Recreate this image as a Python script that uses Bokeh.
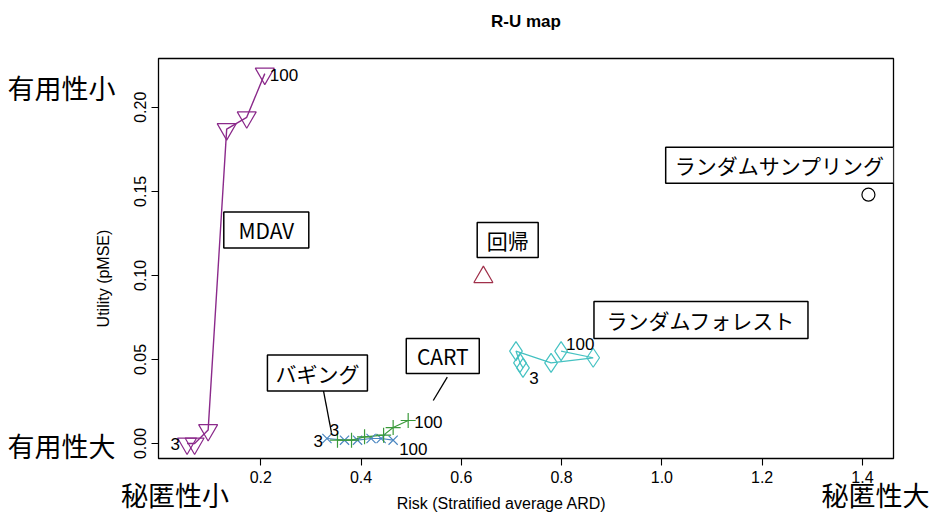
from bokeh.plotting import figure
from bokeh.models import Range1d, FixedTicker, PrintfTickFormatter, LinearAxis
from bokeh.embed import file_html
from bokeh.resources import INLINE
from bokeh.core.properties import value

# ---- data ----
mdav_risk = [0.053, 0.068, 0.095, 0.132, 0.172, 0.208]
mdav_util = [0.000, 0.000, 0.008, 0.187, 0.194, 0.220]

bagging_risk = [0.332, 0.367, 0.393, 0.420, 0.440, 0.464]
bagging_util = [0.003, 0.002, 0.002, 0.003, 0.003, 0.002]

cart_risk = [0.353, 0.381, 0.407, 0.445, 0.464, 0.494]
cart_util = [0.002, 0.002, 0.004, 0.005, 0.0095, 0.0137]

rf_risk = [0.723, 0.717, 0.709, 0.779, 0.863, 0.799]
rf_util = [0.045, 0.048, 0.055, 0.048, 0.051, 0.055]

reg_risk = [0.644]
reg_util = [0.099]

rs_risk = [1.412]
rs_util = [0.148]

x_ticks = [0.2, 0.4, 0.6, 0.8, 1.0, 1.2, 1.4]
y_ticks = [0.00, 0.05, 0.10, 0.15, 0.20]

title_text = "R-U map"
x_label = "Risk (Stratified average ARD)"
y_label = "Utility (pMSE)"
method_names = ["ランダムサンプリング", "MDAV", "回帰", "ランダムフォレスト", "CART", "バギング"]
k_first, k_last = "3", "100"
utility_words = ["有用性小", "有用性大"]
risk_words = ["秘匿性小", "秘匿性大"]

NB = "\u00a0"

# ---- figure ----
p = figure(width=929, height=516, output_backend="svg", toolbar_location=None,
           x_range=Range1d(-0.004, 1.462), y_range=Range1d(-0.0089, 0.229),
           min_border_left=158, min_border_right=36, min_border_top=58,
           min_border_bottom=58)
p.grid.visible = False
p.outline_line_color = "black"
p.outline_line_width = 1.3
p.outline_line_alpha = 1.0
p.background_fill_color = "white"
p.border_fill_color = "white"

tick_font = "Liberation Sans"
jp = "Noto Sans CJK JP"

p.xaxis.ticker = FixedTicker(ticks=x_ticks)
p.xaxis.formatter = PrintfTickFormatter(format="%.1f")
p.yaxis.ticker = FixedTicker(ticks=y_ticks)
p.yaxis.formatter = PrintfTickFormatter(format="%.2f")
for ax in (p.xaxis, p.yaxis):
    ax.axis_line_color = None
    ax.major_tick_line_color = "black"
    ax.major_tick_line_width = 1.1
    ax.major_tick_out = 7
    ax.major_tick_in = 0
    ax.minor_tick_line_color = None
    ax.major_label_text_font = tick_font
    ax.major_label_text_font_size = "16px"
    ax.major_label_text_color = "black"
    ax.axis_label_text_font = tick_font
    ax.axis_label_text_font_size = "16px"
    ax.axis_label_text_font_style = "normal"
    ax.axis_label_text_color = "black"
p.yaxis.major_label_orientation = "vertical"
p.xaxis.major_label_standoff = 5
p.yaxis.major_label_standoff = 5
# trailing no-break spaces shift the centred labels as in the reference
p.xaxis.axis_label = x_label + NB * 11
p.yaxis.axis_label = y_label + NB * 9
p.xaxis.axis_label_standoff = 9
p.yaxis.axis_label_standoff = 20

# title placed as a label-only axis above the frame
title_pos = [0.729]
ax_t = LinearAxis(ticker=FixedTicker(ticks=title_pos),
                  major_label_overrides={title_pos[0]: title_text},
                  major_label_standoff=22,
                  major_label_text_font=tick_font,
                  major_label_text_font_size="17px",
                  major_label_text_font_style="bold",
                  major_label_text_color="black",
                  axis_line_color=None, major_tick_line_color=None,
                  minor_tick_line_color=None)
p.add_layout(ax_t, "above")

# outer word axes (有用性 / 秘匿性)
y_word_ticks = [0.2115, -0.0012]
ax_u = LinearAxis(ticker=FixedTicker(ticks=y_word_ticks),
                  major_label_overrides={y_word_ticks[0]: utility_words[0],
                                         y_word_ticks[1]: utility_words[1]},
                  major_label_orientation="horizontal",
                  major_label_standoff=-30,
                  major_label_text_font=jp, major_label_text_font_size="27px",
                  major_label_text_color="black",
                  axis_line_color=None, major_tick_line_color=None,
                  minor_tick_line_color=None)
p.add_layout(ax_u, "left")

x_word_ticks = [0.029, 1.442]
ax_r = LinearAxis(ticker=FixedTicker(ticks=x_word_ticks),
                  major_label_overrides={x_word_ticks[0]: risk_words[0],
                                         x_word_ticks[1]: risk_words[1]},
                  major_label_standoff=-46,
                  major_label_text_font=jp, major_label_text_font_size="27px",
                  major_label_text_color="black",
                  axis_line_color=None, major_tick_line_color=None,
                  minor_tick_line_color=None)
p.add_layout(ax_r, "below")

c_mdav = "#8B2A8B"
c_bag = "#4A86C0"
c_cart = "#3A9A3A"
c_rf = "#45C2C2"
c_reg = "#A0304A"

# series lines
p.line(mdav_risk, mdav_util, line_color=c_mdav, line_width=1.4)
p.line(bagging_risk, bagging_util, line_color=c_bag, line_width=1.2)
p.line(cart_risk, cart_util, line_color=c_cart, line_width=1.2)
p.line(rf_risk, rf_util, line_color=c_rf, line_width=1.2)

# markers
p.scatter(mdav_risk, mdav_util, marker="inverted_triangle", size=19,
          fill_color=None, line_color=c_mdav, line_width=1.2)
p.scatter(bagging_risk, bagging_util, marker="x", size=13,
          line_color=c_bag, line_width=1.2)
p.scatter(cart_risk, cart_util, marker="cross", size=15,
          line_color=c_cart, line_width=1.2)
p.scatter(rf_risk, rf_util, marker="diamond", size=19,
          fill_color=None, line_color=c_rf, line_width=1.2)
p.scatter(reg_risk, reg_util, marker="triangle", size=19,
          fill_color=None, line_color=c_reg, line_width=1.2)
p.scatter(rs_risk, rs_util, marker="circle", size=13,
          fill_color=None, line_color="black", line_width=1.2)

# k labels (3 / 100)
lab_font = value(tick_font)
def klabel(x, y, t, align, xo, yo):
    p.text([x], [y], text=[t], text_align=align, text_baseline="middle",
           x_offset=xo, y_offset=yo, text_font=lab_font,
           text_font_size="17px", text_color="black")

klabel(mdav_risk[0], mdav_util[0], k_first, "right", -7, 0)
klabel(mdav_risk[-1], mdav_util[-1], k_last, "left", 5, 1)
klabel(bagging_risk[0], bagging_util[0], k_first, "right", -4, 3)
klabel(bagging_risk[-1], bagging_util[-1], k_last, "left", 6, 9)
klabel(cart_risk[0], cart_util[0], k_first, "center", -3, -10)
klabel(cart_risk[-1], cart_util[-1], k_last, "left", 6, 1)
klabel(rf_risk[0], rf_util[0], k_first, "center", 11, 10)
klabel(rf_risk[-1], rf_util[-1], k_last, "left", 5, -7)

# connector lines from boxes
p.segment(x0=[0.572, 0.325], y0=[0.0395, 0.0315],
          x1=[0.544, 0.341], y1=[0.0256, 0.0065],
          line_color="black", line_width=1.3)

# method name boxes
box_x = [1.235, 0.211, 0.6925, 1.078, 0.563, 0.313]
box_y = [0.1655, 0.127, 0.121, 0.0735, 0.052, 0.042]
box_w = [228, 85, 61, 214, 73, 100]
box_h = [36, 36, 35, 37, 35, 36]
for bx, by, bw, bh in zip(box_x, box_y, box_w, box_h):
    p.rect([bx], [by], width=bw, height=bh, width_units="screen",
           height_units="screen", fill_color="white", line_color="black",
           line_width=1.5)
p.text(box_x, box_y, text=method_names, text_align="center",
       text_baseline="middle", text_font=value(jp),
       text_font_size="21px", text_color="black")

open("out.html", "w").write(file_html(p, INLINE))
